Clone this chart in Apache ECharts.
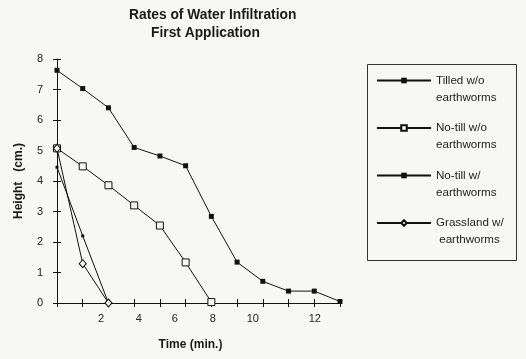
<!DOCTYPE html>
<html>
<head>
<meta charset="utf-8">
<script src="https://cdn.jsdelivr.net/npm/echarts@6/dist/echarts.min.js"></script>
<style>
html,body{margin:0;padding:0;background:#f7f7f6;}
#chart{width:526px;height:359px;}
</style>
</head>
<body>
<div id="chart"></div>
<script>
// x positions are the recording intervals drawn at evenly spaced ticks
var timeIdx = [0, 1, 2, 3, 4, 5, 6, 7, 8, 9, 10, 11];
var tilledNoWorms = [7.63, 7.03, 6.40, 5.10, 4.82, 4.50, 2.84, 1.34, 0.71, 0.39, 0.39, 0.05];
var notillNoWorms = [5.07, 4.48, 3.86, 3.20, 2.54, 1.33, 0.03];
var notillWorms = [4.45, 2.20, 0.0];
var grassWorms = [5.07, 1.29, 0.0];
var xTickLabels = ['2', '4', '6', '8', '10', '12'];
var xTickLabelAt = [1.71, 3.18, 4.58, 6.06, 7.61, 10.02];
var yTicks = [0, 1, 2, 3, 4, 5, 6, 7, 8];
var seriesNames = ['Tilled w/o\nearthworms', 'No-till w/o\nearthworms', 'No-till w/\nearthworms', 'Grassland w/\n earthworms'];

function pairs(vals) {
  return vals.map(function (v, i) { return [timeIdx[i], v]; });
}

var FONT = '"Liberation Sans", Arial, Helvetica, sans-serif';
var INK = '#111';
var BG = '#f7f7f6';

var chart = echarts.init(document.getElementById('chart'), null, {renderer: 'canvas'});
var option = {
  backgroundColor: BG,
  animation: false,
  title: [
    {text: 'Rates of Water Infiltration', left: 129, top: 8, padding: 0,
     textStyle: {fontFamily: FONT, fontSize: 13.8, fontWeight: 'bold', color: '#1a1a1a'}},
    {text: 'First Application', left: 151, top: 26, padding: 0,
     textStyle: {fontFamily: FONT, fontSize: 13.8, fontWeight: 'bold', color: '#1a1a1a'}}
  ],
  grid: {left: 57, top: 59, right: 186, bottom: 56, containLabel: false},
  xAxis: [
    {
      type: 'value', min: 0, max: 11, interval: 1,
      name: 'Time (min.)', nameLocation: 'middle', nameGap: 36,
      nameTextStyle: {fontFamily: FONT, fontSize: 12, fontWeight: 'bold', color: '#1a1a1a', padding: [0, 16, 0, 0]},
      axisLine: {show: true, lineStyle: {color: INK, width: 1}},
      axisTick: {show: true, inside: false, length: 4, lineStyle: {color: INK}},
      axisLabel: {
        show: true, margin: 10, fontFamily: FONT, fontSize: 11, color: '#222',
        customValues: xTickLabelAt,
        formatter: function (v) {
          for (var i = 0; i < xTickLabelAt.length; i++) {
            if (Math.abs(xTickLabelAt[i] - v) < 1e-6) return xTickLabels[i];
          }
          return '';
        }
      },
      splitLine: {show: false}
    },
    {
      type: 'value', min: 0, max: 11, interval: 1, position: 'bottom',
      axisLine: {show: false},
      axisTick: {show: true, inside: true, length: 4, lineStyle: {color: INK}},
      axisLabel: {show: false},
      splitLine: {show: false}
    }
  ],
  yAxis: [
    {
      type: 'value', min: 0, max: 8, interval: 1,
      name: 'Height   (cm.)', nameLocation: 'middle', nameGap: 32, nameRotate: 90,
      nameTextStyle: {fontFamily: FONT, fontSize: 12, fontWeight: 'bold', color: '#1a1a1a'},
      axisLine: {show: true, lineStyle: {color: INK, width: 1}},
      axisTick: {show: true, inside: false, length: 4, lineStyle: {color: INK}},
      axisLabel: {show: true, margin: 14, fontFamily: FONT, fontSize: 11, color: '#222',
        formatter: function (v) { return yTicks.indexOf(v) >= 0 ? String(v) : ''; }},
      splitLine: {show: false}
    },
    {
      type: 'value', min: 0, max: 8, interval: 1, position: 'left',
      axisLine: {show: false},
      axisTick: {show: true, inside: true, length: 4, lineStyle: {color: INK}},
      axisLabel: {show: false},
      splitLine: {show: false}
    }
  ],
  legend: {
    orient: 'vertical', left: 376, top: 55, padding: 0,
    itemWidth: 54, itemHeight: 7, itemGap: -3.5,
    textStyle: {fontFamily: FONT, fontSize: 11.6, color: '#222', lineHeight: 17},
    formatter: function (name) { return '\n' + name; },
    data: seriesNames
  },
  graphic: [
    {type: 'rect', shape: {x: 367.5, y: 64.5, width: 149, height: 196},
     style: {fill: 'none', stroke: '#333', lineWidth: 1}, silent: true, z: 0}
  ],
  series: [
    {
      name: seriesNames[0], type: 'line', data: pairs(tilledNoWorms),
      symbol: 'rect', symbolSize: 5, showAllSymbol: true,
      lineStyle: {color: INK, width: 1},
      itemStyle: {color: INK, borderColor: INK, borderWidth: 0}
    },
    {
      name: seriesNames[1], type: 'line', data: pairs(notillNoWorms),
      symbol: 'rect', symbolSize: 7, showAllSymbol: true,
      lineStyle: {color: INK, width: 1},
      itemStyle: {color: BG, borderColor: INK, borderWidth: 1}
    },
    {
      name: seriesNames[2], type: 'line', data: pairs(notillWorms),
      symbol: 'rect', symbolSize: 3, showAllSymbol: true,
      lineStyle: {color: INK, width: 1},
      itemStyle: {color: INK, borderColor: INK, borderWidth: 0}
    },
    {
      name: seriesNames[3], type: 'line', data: pairs(grassWorms),
      symbol: 'diamond', symbolSize: [7, 8], showAllSymbol: true,
      lineStyle: {color: INK, width: 1},
      itemStyle: {color: BG, borderColor: INK, borderWidth: 1}
    }
  ]
};
chart.setOption(option);
</script>
</body>
</html>
